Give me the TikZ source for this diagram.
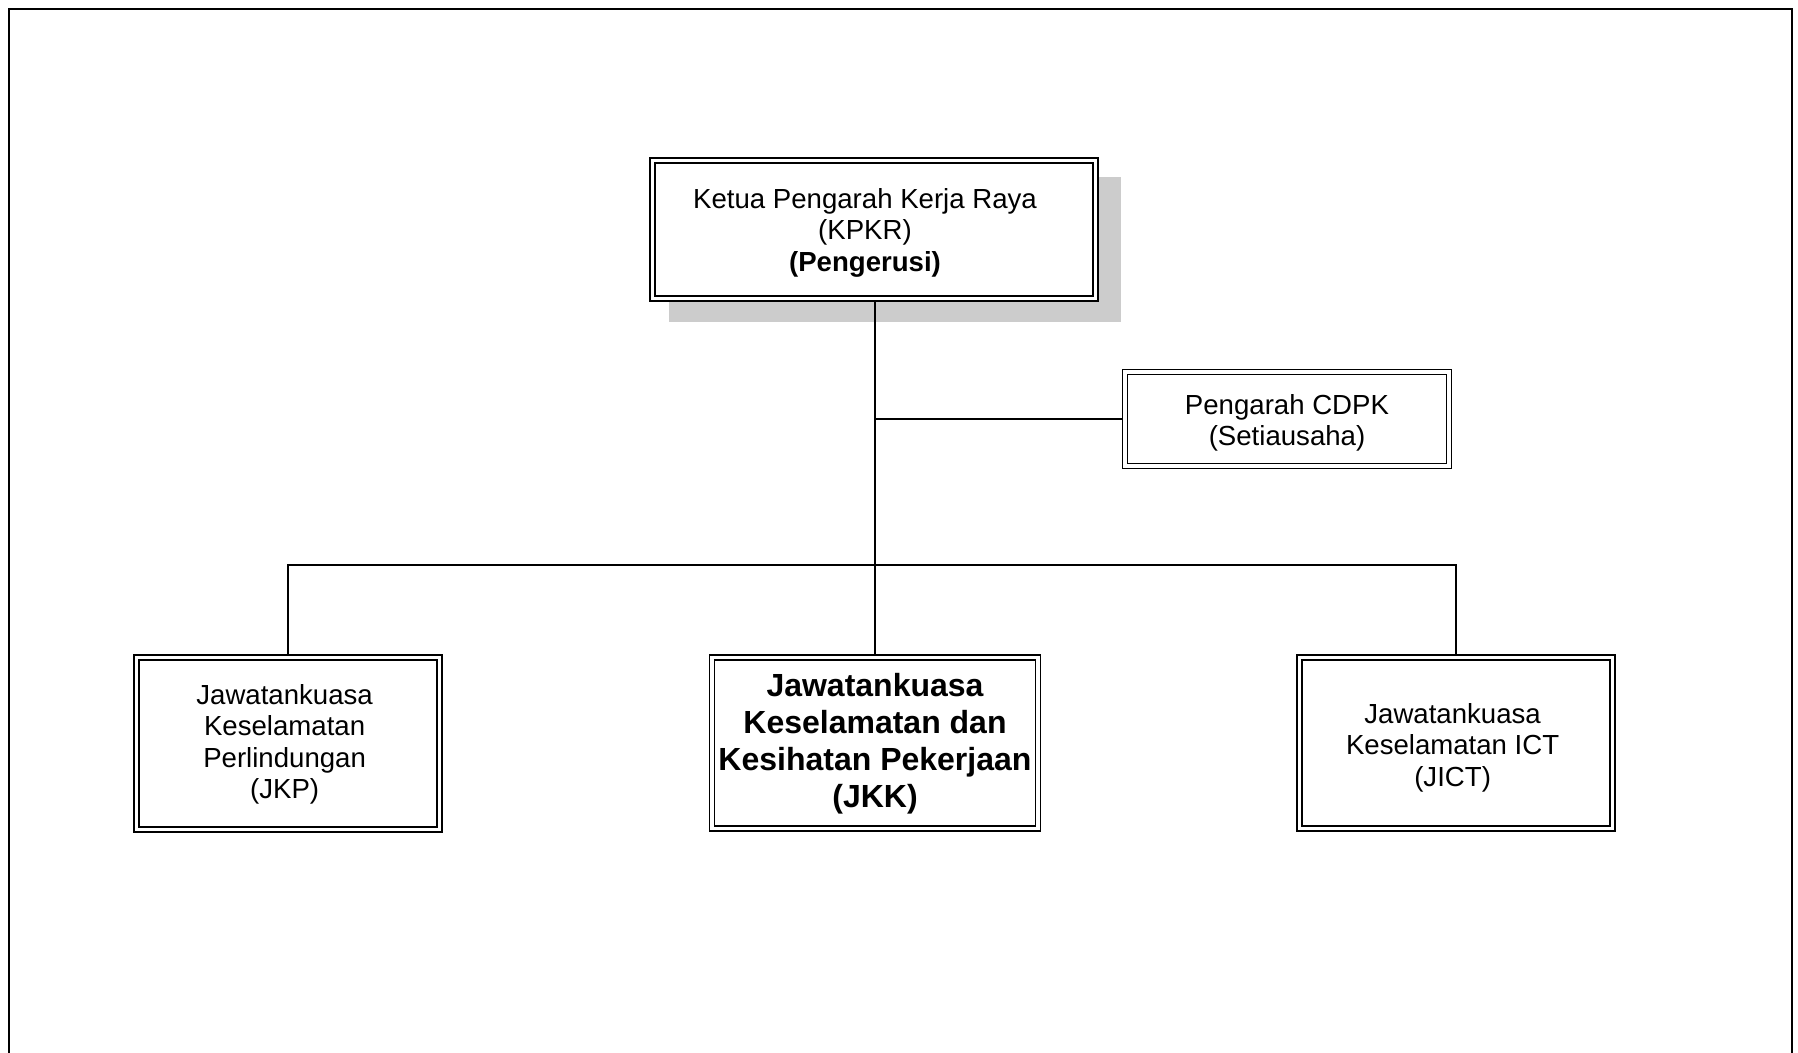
\documentclass[tikz,border=0pt]{standalone}
\usepackage{fontspec}
\setmainfont{Liberation Sans}
\usetikzlibrary{backgrounds}

\definecolor{shadowgrey}{gray}{0.80}

\tikzset{
  orgbox/.style={draw=black, line width=1.2pt, double=white, double distance=3.8pt,
    fill=white, inner sep=0pt, outer sep=3.1pt},
  boxtext/.style={inner sep=0pt, align=center, font=\fontsize{27.6}{31.5}\selectfont},
  keytext/.style={boxtext, font=\fontsize{32}{37}\selectfont\bfseries},
  link/.style={draw=black, line width=1.7pt},
  frameline/.style={draw=black, line width=2pt}
}

\begin{document}
\begin{tikzpicture}[x=1pt, y=-1pt]
  \useasboundingbox (0,0) rectangle (1798,1052);

  % page frame, open at the bottom
  \draw[frameline] (9,1070) -- (9,9) -- (1792,9) -- (1792,1070);

  % boxes
  \node[orgbox, minimum width=443pt, minimum height=138pt] (top)  at (874,229.5) {};
  \node[orgbox, minimum width=324pt, minimum height=94pt]  (cdpk) at (1287,419) {};
  \node[orgbox, minimum width=303pt, minimum height=172pt] (jkp)  at (288,743.5) {};
  \node[orgbox, minimum width=326pt, minimum height=171pt] (jkk)  at (875,743) {};
  \node[orgbox, minimum width=313pt, minimum height=171pt] (jict) at (1456,743) {};

  % box texts
  \node[boxtext] (top-t)  at ([shift={(-9,3)}]top.center)
    {Ketua Pengarah Kerja Raya\\(KPKR)\\\textbf{(Pengerusi)}};
  \node[boxtext] (cdpk-t) at ([shift={(0,3.9)}]cdpk.center)
    {Pengarah CDPK\\(Setiausaha)};
  \node[boxtext] (jkp-t)  at ([shift={(-3.4,1)}]jkp.center)
    {Jawatankuasa\\Keselamatan\\Perlindungan\\(JKP)};
  \node[keytext] (jkk-t)  at ([shift={(0,0.5)}]jkk.center)
    {Jawatankuasa\\Keselamatan dan\\Kesihatan Pekerjaan\\(JKK)};
  \node[boxtext] (jict-t) at ([shift={(-3.4,4.6)}]jict.center)
    {Jawatankuasa\\Keselamatan ICT\\(JICT)};

  % shadow behind the chairman box
  \begin{scope}[on background layer]
    \fill[shadowgrey] ([shift={(20,20)}]top.north west) rectangle ([shift={(22,20)}]top.south east);
  \end{scope}

  % connectors
  \coordinate (bus) at (875,565);
  \coordinate (tap) at (bus |- cdpk.west);
  \draw[link] (bus |- top.south) -- (jkk.north);
  \draw[link] (tap) -- (cdpk.west);
  \draw[link] (jkp.north) |- (bus) -| (jict.north);
\end{tikzpicture}
\end{document}
